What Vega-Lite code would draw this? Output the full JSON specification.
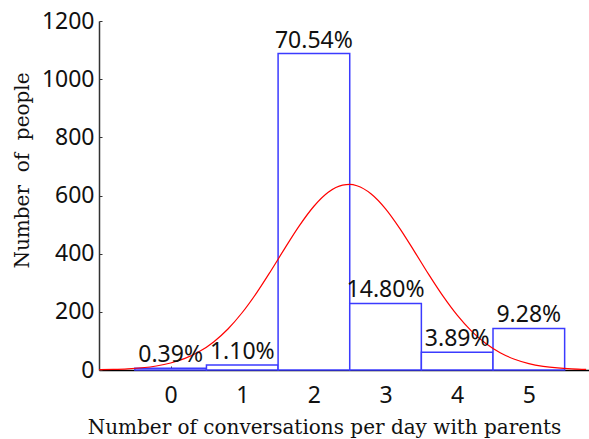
{
  "$schema": "https://vega.github.io/schema/vega-lite/v6.json",
  "width": 490,
  "height": 349,
  "autosize": {"type": "none"},
  "padding": {"left": 99, "top": 21, "right": 0, "bottom": 69},
  "background": "white",
  "config": {
    "view": {"stroke": null},
    "axis": {"grid": false, "labelFont": "Noto Sans", "labelFontSize": 23, "labelColor": "#111", "titleFont": "DejaVu Serif", "titleFontWeight": "normal", "titleFontSize": 20, "titleColor": "#111"}
  },
  "datasets": {
    "bars": [
      {"k": 0, "lo": -0.5, "hi": 0.5, "count": 6, "pct": "0.39%"},
      {"k": 1, "lo": 0.5, "hi": 1.5, "count": 17, "pct": "1.10%"},
      {"k": 2, "lo": 1.5, "hi": 2.5, "count": 1088, "pct": "70.54%"},
      {"k": 3, "lo": 2.5, "hi": 3.5, "count": 229, "pct": "14.80%"},
      {"k": 4, "lo": 3.5, "hi": 4.5, "count": 61, "pct": "3.89%"},
      {"k": 5, "lo": 4.5, "hi": 5.5, "count": 143, "pct": "9.28%"}
    ],
    "curve": [
      {"x": -1.0, "y": 1.0}, {"x": -0.8, "y": 2.1}, {"x": -0.6, "y": 4.1}, {"x": -0.4, "y": 7.7},
      {"x": -0.2, "y": 13.8}, {"x": 0.0, "y": 24.0}, {"x": 0.2, "y": 39.8}, {"x": 0.4, "y": 63.3},
      {"x": 0.6, "y": 96.6}, {"x": 0.8, "y": 141.1}, {"x": 1.0, "y": 197.7}, {"x": 1.2, "y": 265.3},
      {"x": 1.4, "y": 341.3}, {"x": 1.6, "y": 420.8}, {"x": 1.8, "y": 497.2}, {"x": 2.0, "y": 563.0},
      {"x": 2.2, "y": 611.1}, {"x": 2.4, "y": 635.6}, {"x": 2.5, "y": 638.0}, {"x": 2.6, "y": 633.5},
      {"x": 2.8, "y": 605.2}, {"x": 3.0, "y": 554.2}, {"x": 3.2, "y": 486.2}, {"x": 3.4, "y": 408.9},
      {"x": 3.6, "y": 329.5}, {"x": 3.8, "y": 254.6}, {"x": 4.0, "y": 188.4}, {"x": 4.2, "y": 133.6},
      {"x": 4.4, "y": 90.9}, {"x": 4.6, "y": 59.2}, {"x": 4.8, "y": 37.0}, {"x": 5.0, "y": 22.1},
      {"x": 5.2, "y": 12.7}, {"x": 5.4, "y": 7.0}, {"x": 5.6, "y": 3.7}, {"x": 5.8, "y": 1.9}
    ]
  },
  "layer": [
    {
      "data": {"name": "bars"},
      "mark": {"type": "rect", "fill": "white", "stroke": "#3b3bff", "strokeWidth": 1.5},
      "encoding": {
        "x": {
          "field": "lo", "type": "quantitative",
          "scale": {"domain": [-1, 5.84], "nice": false, "zero": false},
          "axis": {
            "values": [0, 1, 2, 3, 4, 5], "format": "d", "title": "Number of conversations per day with parents",
            "domainColor": "#000", "domainWidth": 1.5, "tickColor": "#333", "tickSize": -4,
            "labelPadding": 18, "titleX": 225, "titleY": 57, "titleBaseline": "middle", "titleAlign": "center"
          }
        },
        "x2": {"field": "hi"},
        "y": {
          "field": "count", "type": "quantitative",
          "scale": {"domain": [0, 1200], "nice": false},
          "axis": {
            "values": [0, 200, 400, 600, 800, 1000, 1200], "format": "d", "title": "Number\u00a0\u00a0of\u00a0\u00a0people",
            "domainColor": "#333", "domainWidth": 1.5, "tickColor": "#333", "tickSize": -3,
            "labelPadding": 8, "titleX": -77, "titleY": 149, "titleBaseline": "middle", "titleAlign": "center", "titleAngle": -90
          }
        },
        "y2": {"datum": 0}
      }
    },
    {
      "data": {"name": "curve"},
      "mark": {"type": "line", "color": "red", "strokeWidth": 1.2, "interpolate": "monotone"},
      "encoding": {
        "x": {"field": "x", "type": "quantitative"},
        "y": {"field": "y", "type": "quantitative"}
      }
    },
    {
      "data": {"name": "bars"},
      "mark": {"type": "text", "font": "Noto Sans", "fontSize": 23, "baseline": "bottom", "dy": -1, "color": "#111"},
      "encoding": {
        "x": {"field": "k", "type": "quantitative"},
        "y": {"field": "count", "type": "quantitative"},
        "text": {"field": "pct"}
      }
    }
  ]
}
